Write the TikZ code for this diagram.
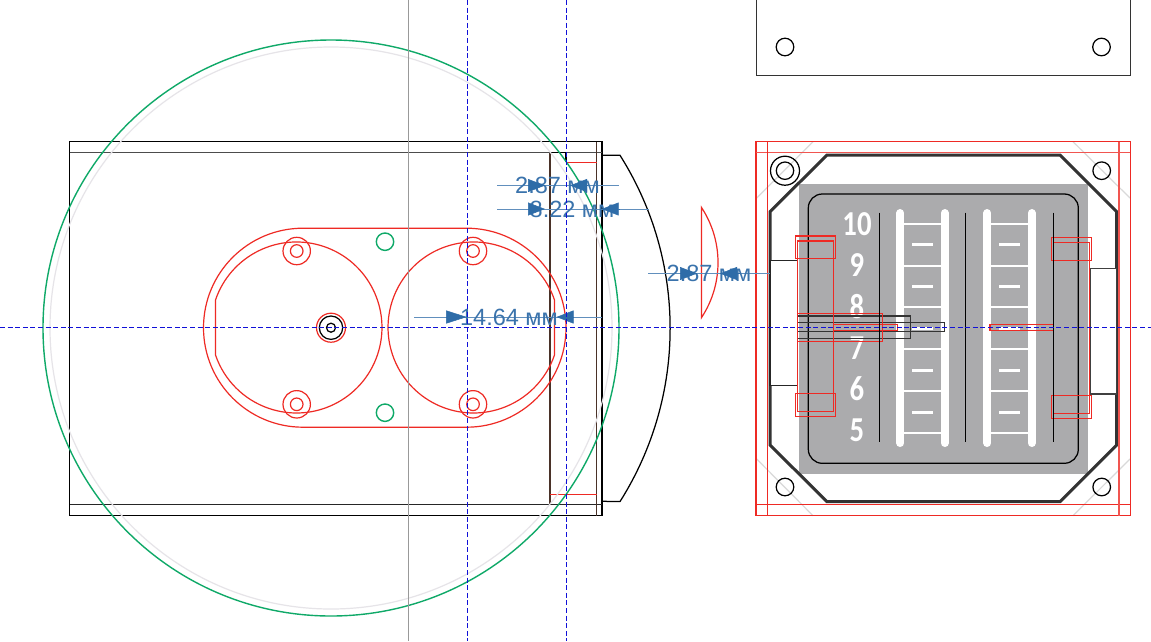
\documentclass[tikz,border=0pt]{standalone}
\usepackage{fontspec}
\setmainfont{Liberation Sans}
\newfontfamily\scalefont{Carlito}
\usetikzlibrary{arrows.meta}
\definecolor{partred}{HTML}{EE2A24}
\definecolor{ringgreen}{HTML}{0FA968}
\definecolor{axisblue}{HTML}{1010D8}
\definecolor{dimblue}{HTML}{3A73AC}
\definecolor{tipblue}{HTML}{2E6CA8}
\definecolor{faceGray}{HTML}{ABABAD}
\definecolor{palegray}{HTML}{E6E4E8}
\definecolor{brownline}{HTML}{4A3228}
\tikzset{
	blackline/.style={draw=black,line width=1.25pt},
	redline/.style={draw=partred,line width=1.2pt},
	greenline/.style={draw=ringgreen,line width=1.4pt},
	paleline/.style={draw=palegray,line width=1.2pt},
	axisline/.style={draw=axisblue,line width=1.2pt,dash pattern=on 5pt off 2.6pt},
	dimline/.style={draw=dimblue!80,line width=1pt},
	dimtip/.style={draw=tipblue,line width=0.5pt,-{Triangle[length=17pt,width=13pt,fill=tipblue]}},
	bigtip/.style={draw=tipblue,line width=0.5pt,-{Triangle[length=20.5pt,width=13pt,fill=tipblue]}},
	dimtext/.style={text=dimblue,font=\fontsize{23.5}{26}\selectfont,inner sep=0pt},
	numtext/.style={text=white,font=\scalefont\bfseries\fontsize{35}{38}\selectfont,inner sep=0pt,xscale=0.82},
	rail/.style={draw=white,line width=8pt,line cap=round},
	rung/.style={draw=white,line width=2pt},
	tick/.style={draw=white,line width=3pt}
}
\begin{document}
\begin{tikzpicture}[x=1pt,y=-1pt]
	\useasboundingbox[fill=white] (0,0) rectangle (1151,641);

	% Body, side view
	\draw[blackline] (69.5,141.7) rectangle (602,515.7);
	\draw[blackline,draw=black!70] (69.5,152.7) -- (602,152.7);
	\draw[blackline,draw=black!85] (69.5,504.3) -- (602,504.3);
	\draw[blackline] (550,152.7) -- (566,152.7) -- (566,162.3);
	\draw[blackline,draw=brownline] (550,152.7) -- (550,504.3);
	\draw[blackline,draw=brownline] (596.7,141.7) -- (596.7,515.7);
	\draw[redline] (566,162.3) -- (596.7,162.3);
	\draw[redline] (550,494.3) -- (596.7,494.3);

	% Cover, side view
	\draw[blackline] (602,155.3) -- (620,155.3) arc (-32.3:32.3:324) -- (602,501.3);
	\draw[redline] (701.5,207.5) arc (-33.4:33.4:100) -- cycle;

	% Rings
	\draw[paleline] (331,328) circle (281);
	\draw[greenline] (331,328) circle (288);
	\draw[greenline] (385,241.7) circle (8.7);
	\draw[greenline] (385,412.7) circle (8.7);

	% Slot and sockets
	\draw[redline] (303,228.2) -- (466.5,228.2) arc (-90:90:99.5) -- (303,427.2) arc (90:270:99.5) -- cycle;
	\draw[redline] (215.5,300) arc (198.75:521.25:85.5) -- cycle;
	\draw[redline] (554.5,300) arc (-18.75:-341.25:85.5) -- cycle;
	\foreach \cx in {296.7,473} {
		\foreach \cy in {251,404.3} {
			\draw[redline] (\cx,\cy) circle (13.7);
			\draw[redline] (\cx,\cy) circle (6.3);
		}
	}
	\draw[redline] (331,327.7) circle (14.5);
	\draw[blackline] (331,327.7) circle (11.7);
	\draw[blackline] (331,327.7) circle (4.5);

	% Front view, plate
	\draw[blackline,draw=black!80] (756.5,-5) rectangle (1130.5,75.7);
	\draw[blackline] (785,47) circle (8.8);
	\draw[blackline] (1101.5,47) circle (8.8);
	\draw[paleline,draw=black!15] (756.7,198) -- (813,141.7);
	\draw[paleline,draw=black!15] (1073,141.7) -- (1130,198);
	\draw[paleline,draw=black!15] (756.7,459) -- (813,515.7);
	\draw[paleline,draw=black!15] (1073,515.7) -- (1130,459);
	\fill[faceGray] (799,184.3) rectangle (1088.3,474);
	\draw[draw=black!80,line width=3pt] (827,155) -- (1060,155) -- (1116.7,211.7) -- (1116.7,445) -- (1060,501.7) -- (827,501.7) -- (770,445) -- (770,211.7) -- cycle;
	\draw[blackline,rounded corners=14pt] (808.3,194) rectangle (1078.3,463.3);

	% Ladders
	\foreach \rx in {900.3,987.3} {
		\draw[rail] (\rx,213) -- (\rx,443);
		\draw[rail] (\rx+44.4,213) -- (\rx+44.4,443);
		\foreach \ry in {224,265.7,307.3,349.3,391.3,432.7} {
			\draw[rung] (\rx,\ry) -- (\rx+44.4,\ry);
		}
		\foreach \ty in {244,286,328,370.3,412.3} {
			\draw[tick] (\rx+11.7,\ty) -- (\rx+32.7,\ty);
		}
	}
	\node[numtext] (num10) at (857,224.5) {10};
	\node[numtext] (num9) at (857,265.5) {9};
	\node[numtext] (num8) at (857,306.5) {8};
	\node[numtext] (num7) at (857,348) {7};
	\node[numtext] (num6) at (857,389) {6};
	\node[numtext] (num5) at (857,430) {5};

	% Screw holes
	\draw[blackline] (785,170.7) circle (14.5);
	\draw[blackline] (785,170.7) circle (8.7);
	\draw[blackline] (1101.7,170.7) circle (8.8);
	\draw[blackline] (785,487) circle (8.8);
	\draw[blackline] (1101.7,487) circle (8.8);

	% Side clips
	\draw[blackline,draw=black!85,fill=white] (770,260.7) rectangle (797.3,385.7);
	\draw[blackline,draw=black!75,fill=white] (1090,268.3) rectangle (1116.7,394);

	% Shaft, black parts
	\draw[blackline,draw=black!80] (797.3,316) rectangle (910.7,338.7);
	\draw[blackline,draw=black!80] (797.3,322.7) rectangle (944.7,331.3);

	% Red outlines
	\draw[redline] (756,141.7) rectangle (1130.3,515.7);
	\draw[redline,draw=partred!80] (756,152.7) -- (1130.3,152.7);
	\draw[redline] (756,504.3) -- (1130.3,504.3);
	\draw[redline] (767.7,141.7) -- (767.7,515.7);
	\draw[redline,draw=partred!80] (1119,141.7) -- (1119,515.7);
	\draw[redline] (795.7,236) rectangle (835.7,258.7);
	\draw[redline] (797.3,241) rectangle (833.7,411.7);
	\draw[redline] (795.7,393.7) rectangle (835.7,416.7);
	\draw[redline] (1051.7,237.7) rectangle (1091.7,260.7);
	\draw[redline] (1053,242.7) -- (1089.7,242.7) -- (1089.7,413.3) -- (1053,413.3);
	\draw[redline] (1051.7,395.7) rectangle (1091.7,418.7);
	\draw[redline] (797.3,313.3) rectangle (882.3,341.3);
	\draw[redline] (833.7,324.7) rectangle (897.3,330.7);
	\draw[redline] (990,324.7) rectangle (1053.3,330.7);

	% Scale dividers, over the red
	\foreach \lx in {879.3,965.3,1053.3} {
		\draw[blackline] (\lx,212.7) -- (\lx,441.7);
	}

	% Dimensions
	\coordinate (dimAl) at (497,185.5);
	\coordinate (dimAr) at (619,185.5);
	\coordinate (dimBl) at (497,209);
	\coordinate (dimBr) at (649,209);
	\coordinate (dimCl) at (648,273.5);
	\coordinate (dimCr) at (770,273.5);
	\coordinate (dimDl) at (414,317);
	\coordinate (dimDr) at (602,317);
	\draw[dimline] (dimAl) -- (dimAr);
	\draw[dimline] (dimBl) -- (dimBr);
	\draw[dimline] (dimCl) -- (dimCr);
	\draw[dimline] (dimDl) -- (dimDr);
	\node[dimtext] (dimA) at (557.5,185.5) {2.87 мм};
	\node[dimtext] (dimB) at (572,209) {8.22 мм};
	\node[dimtext] (dimC) at (709,273.5) {2.87 мм};
	\node[dimtext] (dimD) at (509,317) {14.64 мм};
	\draw[dimtip] (528,185.5) -- (545,185.5);
	\draw[dimtip] (588,185.5) -- (570,185.5);
	\draw[dimtip] (528,209) -- (545,209);
	\draw[dimtip] (618.7,209) -- (601.7,209);
	\draw[dimtip] (680,273.5) -- (697,273.5);
	\draw[dimtip] (740,273.5) -- (720,273.5);
	\draw[bigtip] (446,317) -- (466.7,317);
	\draw[dimtip] (573.5,317) -- (556.5,317);

	% Axes
	\draw[draw=black!40,line width=1.2pt] (408.5,0) -- (408.5,641);
	\draw[axisline] (467.3,0) -- (467.3,641);
	\draw[axisline] (566.3,0) -- (566.3,641);
	\draw[axisline] (0,327.7) -- (1151,327.7);
\end{tikzpicture}
\end{document}
